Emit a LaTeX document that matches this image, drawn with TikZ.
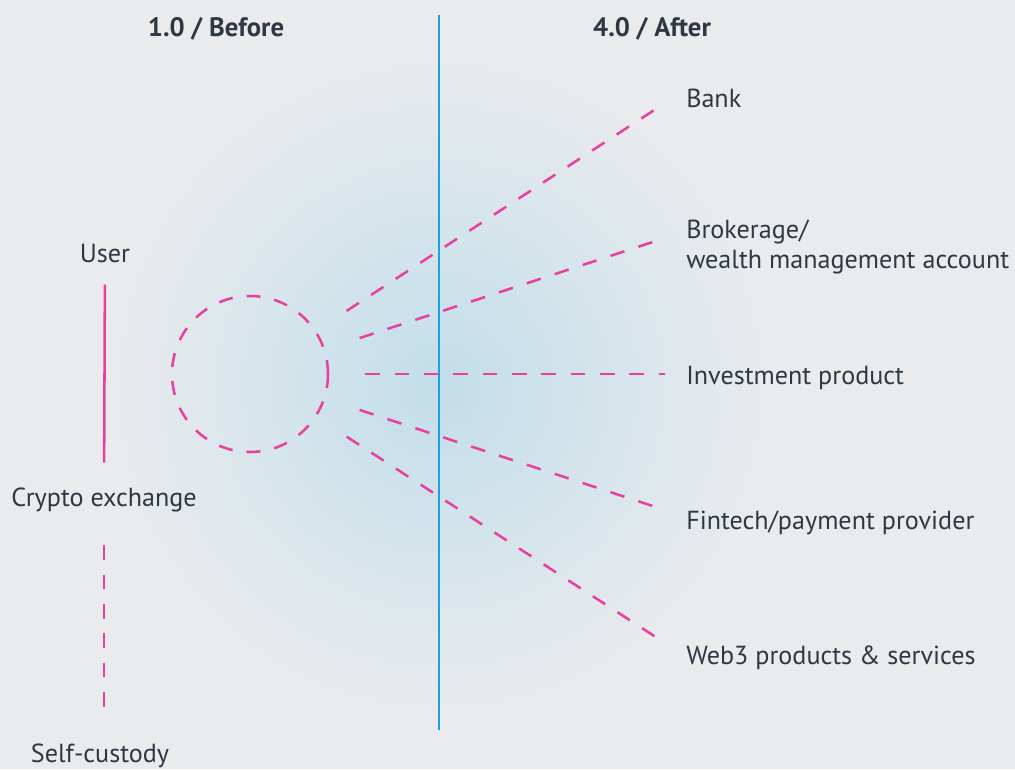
\documentclass[tikz,border=0pt]{standalone}
\usepackage{fontspec}
\setmainfont{PT Sans}
\usetikzlibrary{positioning}
\definecolor{bgcol}{HTML}{EAEBED}
\definecolor{glow}{HTML}{C2DEEA}
\definecolor{ink}{HTML}{2E3842}
\definecolor{pinkline}{HTML}{E8409F}
\definecolor{divider}{HTML}{1BA1DC}
\tikzset{lbl/.style={font=\fontsize{19.6}{23}\selectfont,text=ink,inner sep=0pt},
head/.style={lbl,font=\fontsize{20}{23}\selectfont\bfseries},
link/.style={pinkline,line width=1.9pt,dash pattern=on 11pt off 11pt}}

\begin{document}
\begin{tikzpicture}[x=0.75pt,y=-0.75pt]
\useasboundingbox (0,0) rectangle (1015,769);
\fill[bgcol] (0,0) rectangle (1015,769);
\begin{scope}
\clip (0,0) rectangle (1015,769);
\shade[inner color=glow,outer color=bgcol] (440,385) circle (255pt);
\end{scope}
\node[head] (before) at (216,29) {1.0 / Before};
\node[head] (after) at (652,29) {4.0 / After};
\coordinate (divtop) at (439,15);
\coordinate (divbot) at (439,730);
\draw[divider,line width=2.2pt] (divtop) -- (divbot);
\node[lbl] (user) at (105,254) {User};
\node[lbl] (exchange) at (104,500) {Crypto exchange};
\node[lbl] (selfcustody) at (100,756) {Self-custody};
\draw[pinkline,line width=1.9pt,shorten <=23pt,shorten >=28pt] (user.center) -- (exchange.center);
\draw[link,shorten <=34pt,shorten >=26pt] (exchange.center) -- (exchange.center |- selfcustody.center);
\node[draw=pinkline,line width=1.9pt,dash pattern=on 10.5pt off 10.5pt,circle,minimum size=117pt,inner sep=0pt,outer sep=0pt] (hub) at (250,374) {};
\node[lbl,anchor=west] (bank) at (686,98) {Bank};
\node[lbl,anchor=west,align=left] (brokerage) at (686,247) {Brokerage/\\wealth management account};
\node[lbl,anchor=west] (investment) at (686,378) {Investment product};
\node[lbl,anchor=west] (fintech) at (686,523) {Fintech/payment provider};
\node[lbl,anchor=west] (web3) at (686,658) {Web3 products \& services};
\coordinate (bankend) at (665,103);
\coordinate (brokerageend) at (665,238);
\coordinate (investmentend) at (665,374);
\coordinate (fintechend) at (665,510);
\coordinate (web3end) at (665,643);
\foreach \e in {bankend,brokerageend,investmentend,fintechend,web3end}
  \draw[link,shorten <=28pt] (hub) -- (\e);
\end{tikzpicture}
\end{document}
